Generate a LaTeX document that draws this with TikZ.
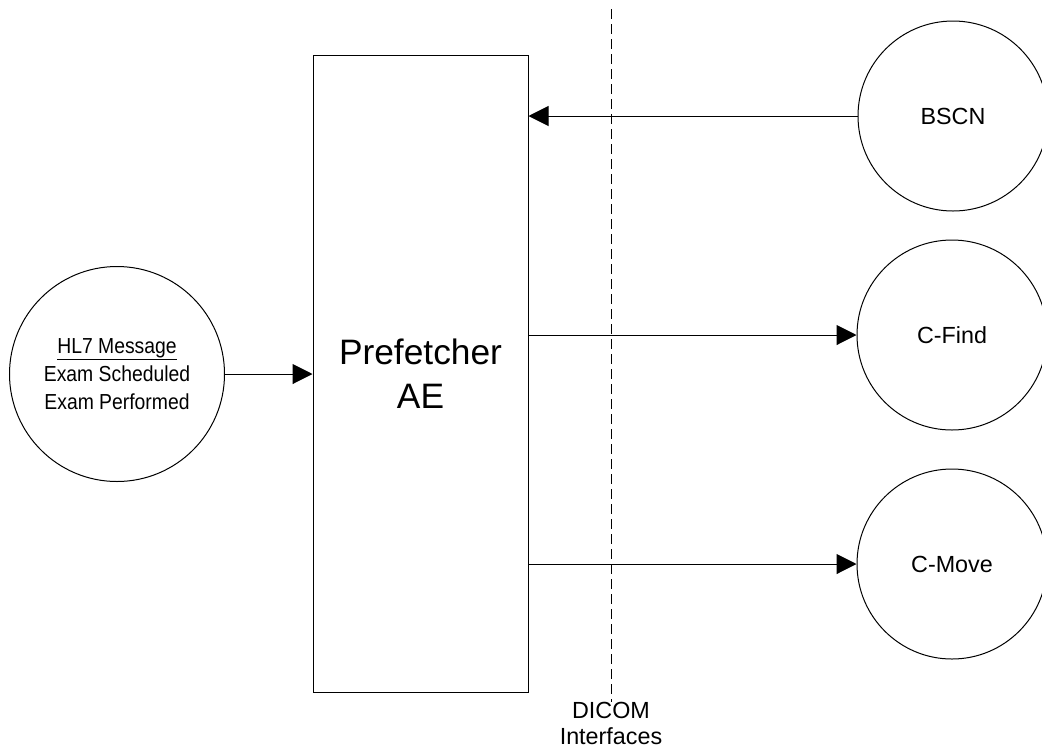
\documentclass[tikz,border=0pt]{standalone}
\usepackage{fontspec}
\setmainfont{Liberation Sans}
\usetikzlibrary{arrows.meta}
\newcommand{\narrowline}[1]{\scalebox{0.89}[1]{#1}}
\begin{document}
\begin{tikzpicture}[x=0.75pt,y=-0.75pt,
  line width=0.75pt,
  tri/.style={-{Triangle[length=15pt,width=15pt]}},
  circ/.style={draw,circle,minimum size=142.5pt,inner sep=0pt,align=center,font=\fontsize{17.5}{21}\selectfont},
  bigbox/.style={draw,rectangle,minimum width=161.25pt,minimum height=477.75pt,inner sep=0pt,align=center},
]
\useasboundingbox (0,0) rectangle (1042,751);
\node[bigbox,font=\fontsize{26.5}{33}\selectfont] (pre) at (420.5,373.5) {Prefetcher\\AE};
\node[draw,circle,minimum size=161.25pt,inner sep=0pt,align=center,font=\fontsize{16.3}{21}\selectfont] (hl7) at (117,374)
  {\narrowline{\underline{HL7 Message}}\\\narrowline{Exam Scheduled}\\\narrowline{Exam Performed}};
\node[circ] (bscn) at (953,116) {BSCN};
\node[circ] (cfind) at (952,335) {C-Find};
\node[circ] (cmove) at (952,564) {C-Move};
\coordinate (dtop) at (611,9);
\node[align=center,inner sep=0pt,anchor=north,font=\fontsize{17.5}{19.5}\selectfont] (dicom) at (611,702) {DICOM\\Interfaces};
\draw[dash pattern=on 7.5pt off 3.75pt] (dtop) -- (dicom.north);
\draw[tri] (hl7.east) -- (hl7.east -| pre.west);
\draw[tri] (bscn.west) -- (bscn.west -| pre.east);
\draw[tri] (cfind.west -| pre.east) -- (cfind.west);
\draw[tri] (cmove.west -| pre.east) -- (cmove.west);
\end{tikzpicture}
\end{document}
